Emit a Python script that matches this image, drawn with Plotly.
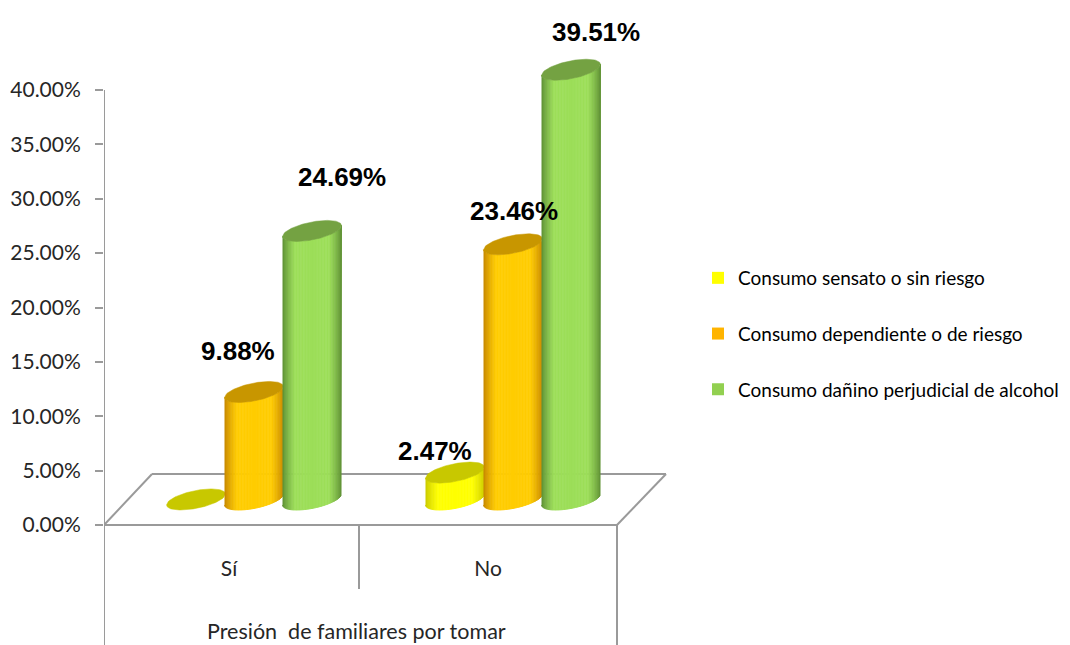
import math
import plotly.graph_objects as go

categories = ['Sí', 'No']
series_names = ['Consumo sensato o sin riesgo', 'Consumo dependiente o de riesgo', 'Consumo dañino perjudicial de alcohol']
sensato = [0.0, 2.47]
dependiente = [9.88, 23.46]
danino = [24.69, 39.51]
tick_values = [0, 5, 10, 15, 20, 25, 30, 35, 40]
tick_labels = ['0.00%', '5.00%', '10.00%', '15.00%', '20.00%', '25.00%', '30.00%', '35.00%', '40.00%']

values = [sensato, dependiente, danino]
legend_colors = ['#ffff00', '#ffb400', '#92d050']
edge_colors = [(200, 200, 0), (196, 132, 0), (92, 140, 52)]
mid_colors = [(255, 255, 0), (255, 204, 0), (156, 222, 88)]
top_colors = ['#c8c800', '#c89600', '#74a242']

# x axis runs in page pixels, y axis in percent. The page body has an 8px margin
W, H = 1070, 645
BODY = 8
PX = 10.875
Y0_PIX = 525
cat_x = [229, 488]
offsets = [-33, 25, 83]
half_w = 29.5
base = 2.35
semi = 9.0 / PX
tilt = 5.5 / PX
STRIPS = 40
text_font = 'Lato'
label_font = 'Liberation Sans'
line_color = '#9a9a9a'


def edge(level, u, lower):
    # y of the tilted ellipse at position u (-1..1) across the cylinder
    s = semi * math.sqrt(max(0, 1 - u * u))
    return level + tilt * u + (-s if lower else s)


def shade(c1, c2, t):
    return 'rgb(%d,%d,%d)' % tuple(round(a + (b - a) * t) for a, b in zip(c1, c2))


fig = go.Figure()

for s, vals in enumerate(values):
    for c, v in enumerate(vals):
        cx = cat_x[c] + offsets[s]
        top = base + v
        if v > 0:
            for i in range(STRIPS):
                u0 = -1 + 2 * i / STRIPS
                u1 = -1 + 2 * (i + 1) / STRIPS
                us = [u0 + (u1 - u0) * k / 3 for k in range(4)]
                xs = [cx + half_w * u for u in us]
                ys_top = [edge(top, u, True) for u in us]
                ys_bot = [edge(base, u, True) for u in us]
                mid = (u0 + u1) / 2
                t = min(1, (1 - abs(mid)) * 2.4) ** 0.8
                col = shade(edge_colors[s], mid_colors[s], t)
                fig.add_trace(go.Scatter(
                    x=xs + xs[::-1], y=ys_top + ys_bot[::-1], mode='lines', fill='toself',
                    fillcolor=col, line=dict(color=col, width=1),
                    showlegend=False, hoverinfo='skip'))
        us = [-1 + 2 * k / 60 for k in range(61)]
        xs = [cx + half_w * u for u in us]
        ys = [edge(top, u, False) for u in us] + [edge(top, u, True) for u in us[::-1]]
        fig.add_trace(go.Scatter(
            x=xs + xs[::-1], y=ys, mode='lines', fill='toself', fillcolor=top_colors[s],
            line=dict(color=top_colors[s], width=0.5), showlegend=False, hoverinfo='skip'))

for s, name in enumerate(series_names):
    fig.add_trace(go.Scatter(
        x=[None], y=[None], mode='markers', name=name, legendgroup=name,
        marker=dict(symbol='square', size=12, color=legend_colors[s])))

# floor and the lines of the category table
y_bottom = (Y0_PIX - H) / PX
floor_back = 51 / PX
lines = [
    (104, 40, 104, y_bottom), (104, 0, 617, 0), (617, 0, 617, y_bottom),
    (359, 0, 359, -64 / PX), (104, 0, 152, floor_back), (152, floor_back, 666, floor_back),
    (666, floor_back, 617, 0),
]
for x0, y0, x1, y1 in lines:
    fig.add_shape(type='line', x0=x0, y0=y0, x1=x1, y1=y1, layer='below',
                  line=dict(color=line_color, width=2))

# data labels: placed by hand like in the original
label_x = [[None, 435], [238, 514], [342, 596]]
label_gap = [[0, 1.95], [3.75, 3.1], [5.0, 3.45]]
for s, vals in enumerate(values):
    for c, v in enumerate(vals):
        if label_x[s][c] is None:
            continue
        fig.add_annotation(
            x=label_x[s][c], y=base + v + label_gap[s][c], text='<b>%.2f%%</b>' % v, showarrow=False,
            font=dict(family=label_font, size=26, color='#000000'))

fig.add_annotation(x=356, y=(Y0_PIX - 631) / PX, text='Presión  de familiares por tomar', showarrow=False,
                   font=dict(family=text_font, size=21.5, color='#262626'))

fig.update_layout(
    width=W - BODY, height=H - BODY, margin=dict(l=104 - BODY, r=0, t=0, b=0), autosize=False,
    paper_bgcolor='white', plot_bgcolor='white', showlegend=True,
    font=dict(family=text_font, size=21, color='#262626'),
    legend=dict(x=(698 - 104) / 966, y=1 - (259 - BODY) / (H - BODY), xanchor='left', yanchor='top', tracegroupgap=28,
                font=dict(family=text_font, size=19, color='#000000'), bgcolor='rgba(0,0,0,0)'),
)
fig.update_xaxes(range=[104, W], showgrid=False, zeroline=False, showline=False,
                 tickmode='array', tickvals=cat_x, ticktext=categories, ticks='',
                 anchor='free', position=(H - 554) / (H - BODY))
fig.update_yaxes(range=[y_bottom, (Y0_PIX - BODY) / PX], showgrid=False, zeroline=False, showline=False,
                 tickmode='array', tickvals=tick_values, ticktext=tick_labels,
                 ticks='outside', ticklen=8, tickwidth=2, tickcolor=line_color, ticklabelstandoff=10)

fig.write_html("out.html")
